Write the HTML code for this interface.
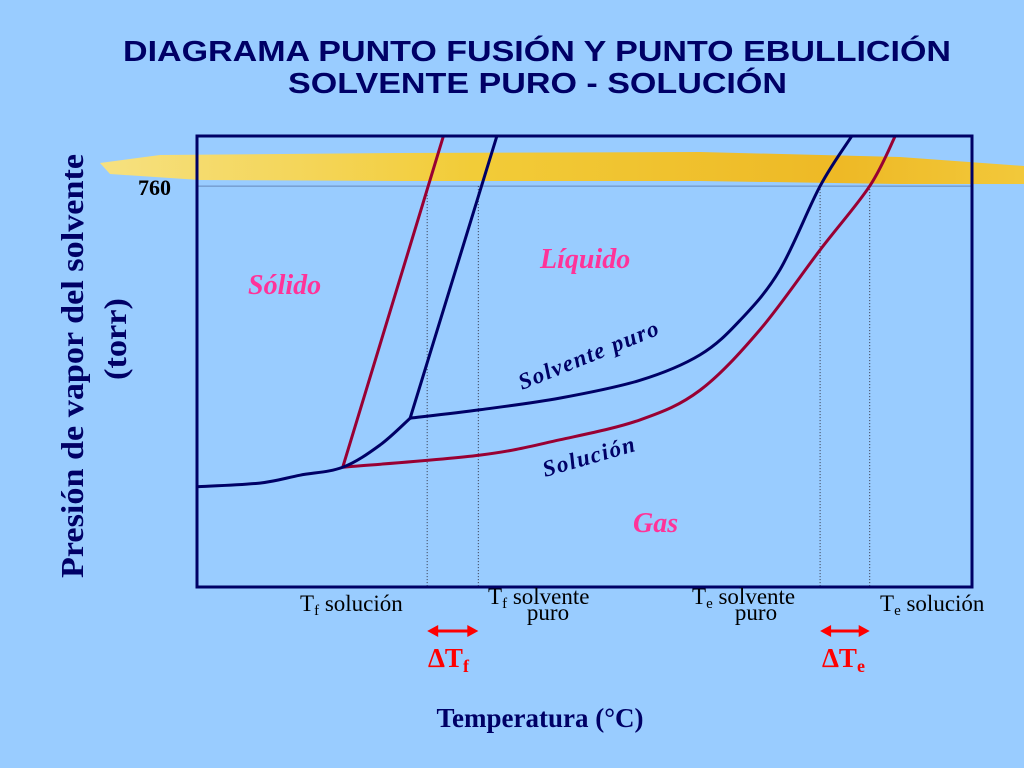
<!DOCTYPE html>
<html><head><meta charset="utf-8"><style>
body{margin:0;background:#99CCFF;}
svg{display:block}
</style></head><body>
<svg width="1024" height="768" xmlns="http://www.w3.org/2000/svg">
<rect width="1024" height="768" fill="#99CCFF"/>
<defs><linearGradient id="hl" x1="0" x2="1"><stop offset="0" stop-color="#FBE27A"/><stop offset="0.4" stop-color="#F7CC2E"/><stop offset="0.8" stop-color="#F2B81A"/><stop offset="1" stop-color="#F7C830"/></linearGradient></defs>
<path d="M100,163 L160,155 L400,153 L700,152 L900,157 L1024,166 L1024,184 L900,184 L700,181 L400,181 L200,180 L110,174 Z" fill="url(#hl)" opacity="0.95"/>
<text x="123" y="61" textLength="828" lengthAdjust="spacingAndGlyphs" font-family="Liberation Sans, sans-serif" font-weight="bold" font-size="29" fill="#000066">DIAGRAMA PUNTO FUSIÓN Y PUNTO EBULLICIÓN</text>
<text x="288" y="93" textLength="499" lengthAdjust="spacingAndGlyphs" font-family="Liberation Sans, sans-serif" font-weight="bold" font-size="29" fill="#000066">SOLVENTE PURO - SOLUCIÓN</text>
<g font-family="Liberation Serif, serif" font-weight="bold" fill="#000066">
<text transform="translate(83,578) rotate(-90)" textLength="424" lengthAdjust="spacingAndGlyphs" font-size="32">Presión de vapor del solvente</text>
<text transform="translate(126,380) rotate(-90)" textLength="82" lengthAdjust="spacingAndGlyphs" font-size="32">(torr)</text>
</g>
<text x="138" y="195" font-family="Liberation Serif, serif" font-weight="bold" font-size="22" fill="#000">760</text>
<g id="plot"></g>
<rect x="197" y="136" width="775" height="451" fill="none" stroke="#000066" stroke-width="3"/>
<g font-family="Liberation Serif, serif" font-weight="bold" font-style="italic" font-size="28" fill="#FF3399">
<text x="248" y="294">Sólido</text>
<text x="540" y="268">Líquido</text>
<text x="633" y="532">Gas</text>
</g>
<text transform="translate(522,390) rotate(-22)" font-family="Liberation Serif, serif" font-weight="bold" font-style="italic" font-size="23" fill="#000066" letter-spacing="1.5">Solvente puro</text>
<text transform="translate(545,477) rotate(-16)" font-family="Liberation Serif, serif" font-weight="bold" font-style="italic" font-size="23" fill="#000066" letter-spacing="1.5">Solución</text>
<g font-family="Liberation Serif, serif" font-size="23" fill="#000">
<text x="300" y="611">T<tspan font-size="15" dy="4">f</tspan><tspan dy="-4"> solución</tspan></text>
<text x="488" y="604">T<tspan font-size="15" dy="4">f</tspan><tspan dy="-4"> solvente</tspan></text>
<text x="548" y="620" text-anchor="middle">puro</text>
<text x="692" y="604">T<tspan font-size="15" dy="4">e</tspan><tspan dy="-4"> solvente</tspan></text>
<text x="756" y="620" text-anchor="middle">puro</text>
<text x="880" y="611">T<tspan font-size="15" dy="4">e</tspan><tspan dy="-4"> solución</tspan></text>
</g>
<g fill="#FF0000" font-family="Liberation Serif, serif" font-weight="bold" font-size="27">
<text x="428" y="667">ΔT<tspan font-size="18" dy="5">f</tspan></text>
<text x="822" y="667">ΔT<tspan font-size="18" dy="5">e</tspan></text>
</g>
<text x="540" y="727" text-anchor="middle" font-family="Liberation Serif, serif" font-weight="bold" font-size="27" fill="#000066">Temperatura (°C)</text>
</svg>
<script>
const solvSolidT=[0,8.1,13.3,18.8,23.6,27.5];
const solvSolidP=[190,197,212,227,269,320];
const solvLiqT=[27.5,36.5,46.8,57.2,64.9,70.1,75.2,80.4,84.5];
const solvLiqP=[320,336,358,392,440,506,601,760,855];
const solMeltT=[18.8,31.8];
const solMeltP=[227,855];
const solvMeltT=[27.5,38.7];
const solvMeltP=[320,855];
const solLiqT=[18.8,36.5,46.8,57.2,64.9,72.6,80.4,86.8,90.1];
const solLiqP=[227,250,279,317,373,487,639,760,855];
const markerT=[29.7,36.3,80.4,86.8];
const refP=760;
const xs=t=>197+t*7.75;
const ys=p=>587-p*0.5275;
const NS="http://www.w3.org/2000/svg";
const g=document.getElementById('plot');
function smooth(T,P){const pts=T.map((t,i)=>[xs(t),ys(P[i])]);let d=`M${pts[0][0]},${pts[0][1]}`;
for(let i=0;i<pts.length-1;i++){const p0=pts[Math.max(0,i-1)],p1=pts[i],p2=pts[i+1],p3=pts[Math.min(pts.length-1,i+2)];
d+=` C${p1[0]+(p2[0]-p0[0])/6},${p1[1]+(p2[1]-p0[1])/6} ${p2[0]-(p3[0]-p1[0])/6},${p2[1]-(p3[1]-p1[1])/6} ${p2[0]},${p2[1]}`;}return d;}
function path(d,c,w,name,dash){const e=document.createElementNS(NS,'path');e.setAttribute('d',d);e.setAttribute('fill','none');e.setAttribute('stroke',c);e.setAttribute('stroke-width',w);if(dash)e.setAttribute('stroke-dasharray',dash);


g.appendChild(e);}
path(`M${xs(0)},${ys(refP)} L${xs(100)},${ys(refP)}`,'#6688bb',1,'reference-line-760');
markerT.forEach(t=>{path(`M${xs(t)},${ys(refP)} L${xs(t)},587`,'#334',1,'marker-dotted-line','1,2');});
path(smooth(solLiqT,solLiqP),'#990033',3,'solution-vapor-curve');
path(smooth(solMeltT,solMeltP),'#990033',3,'solution-melting-line');
path(smooth(solvSolidT,solvSolidP),'#000066',3,'solvent-sublimation-curve');
path(smooth(solvLiqT,solvLiqP),'#000066',3,'solvent-vapor-curve');
path(smooth(solvMeltT,solvMeltP),'#000066',3,'solvent-melting-line');
function arrow(t1,t2,name){const x1=xs(t1),x2=xs(t2),y=631;path(`M${x1+6},${y} L${x2-6},${y}`,'#FF0000',3,name);
[[x1,1],[x2,-1]].forEach(([x,s])=>{const p=document.createElementNS(NS,'path');p.setAttribute('d',`M${x},${y} L${x+s*11},${y-6} L${x+s*11},${y+6} Z`);p.setAttribute('fill','#FF0000');


g.appendChild(p);});}
arrow(markerT[0],markerT[1],'delta-tf-arrow');
arrow(markerT[2],markerT[3],'delta-te-arrow');
</script>
</body></html>
